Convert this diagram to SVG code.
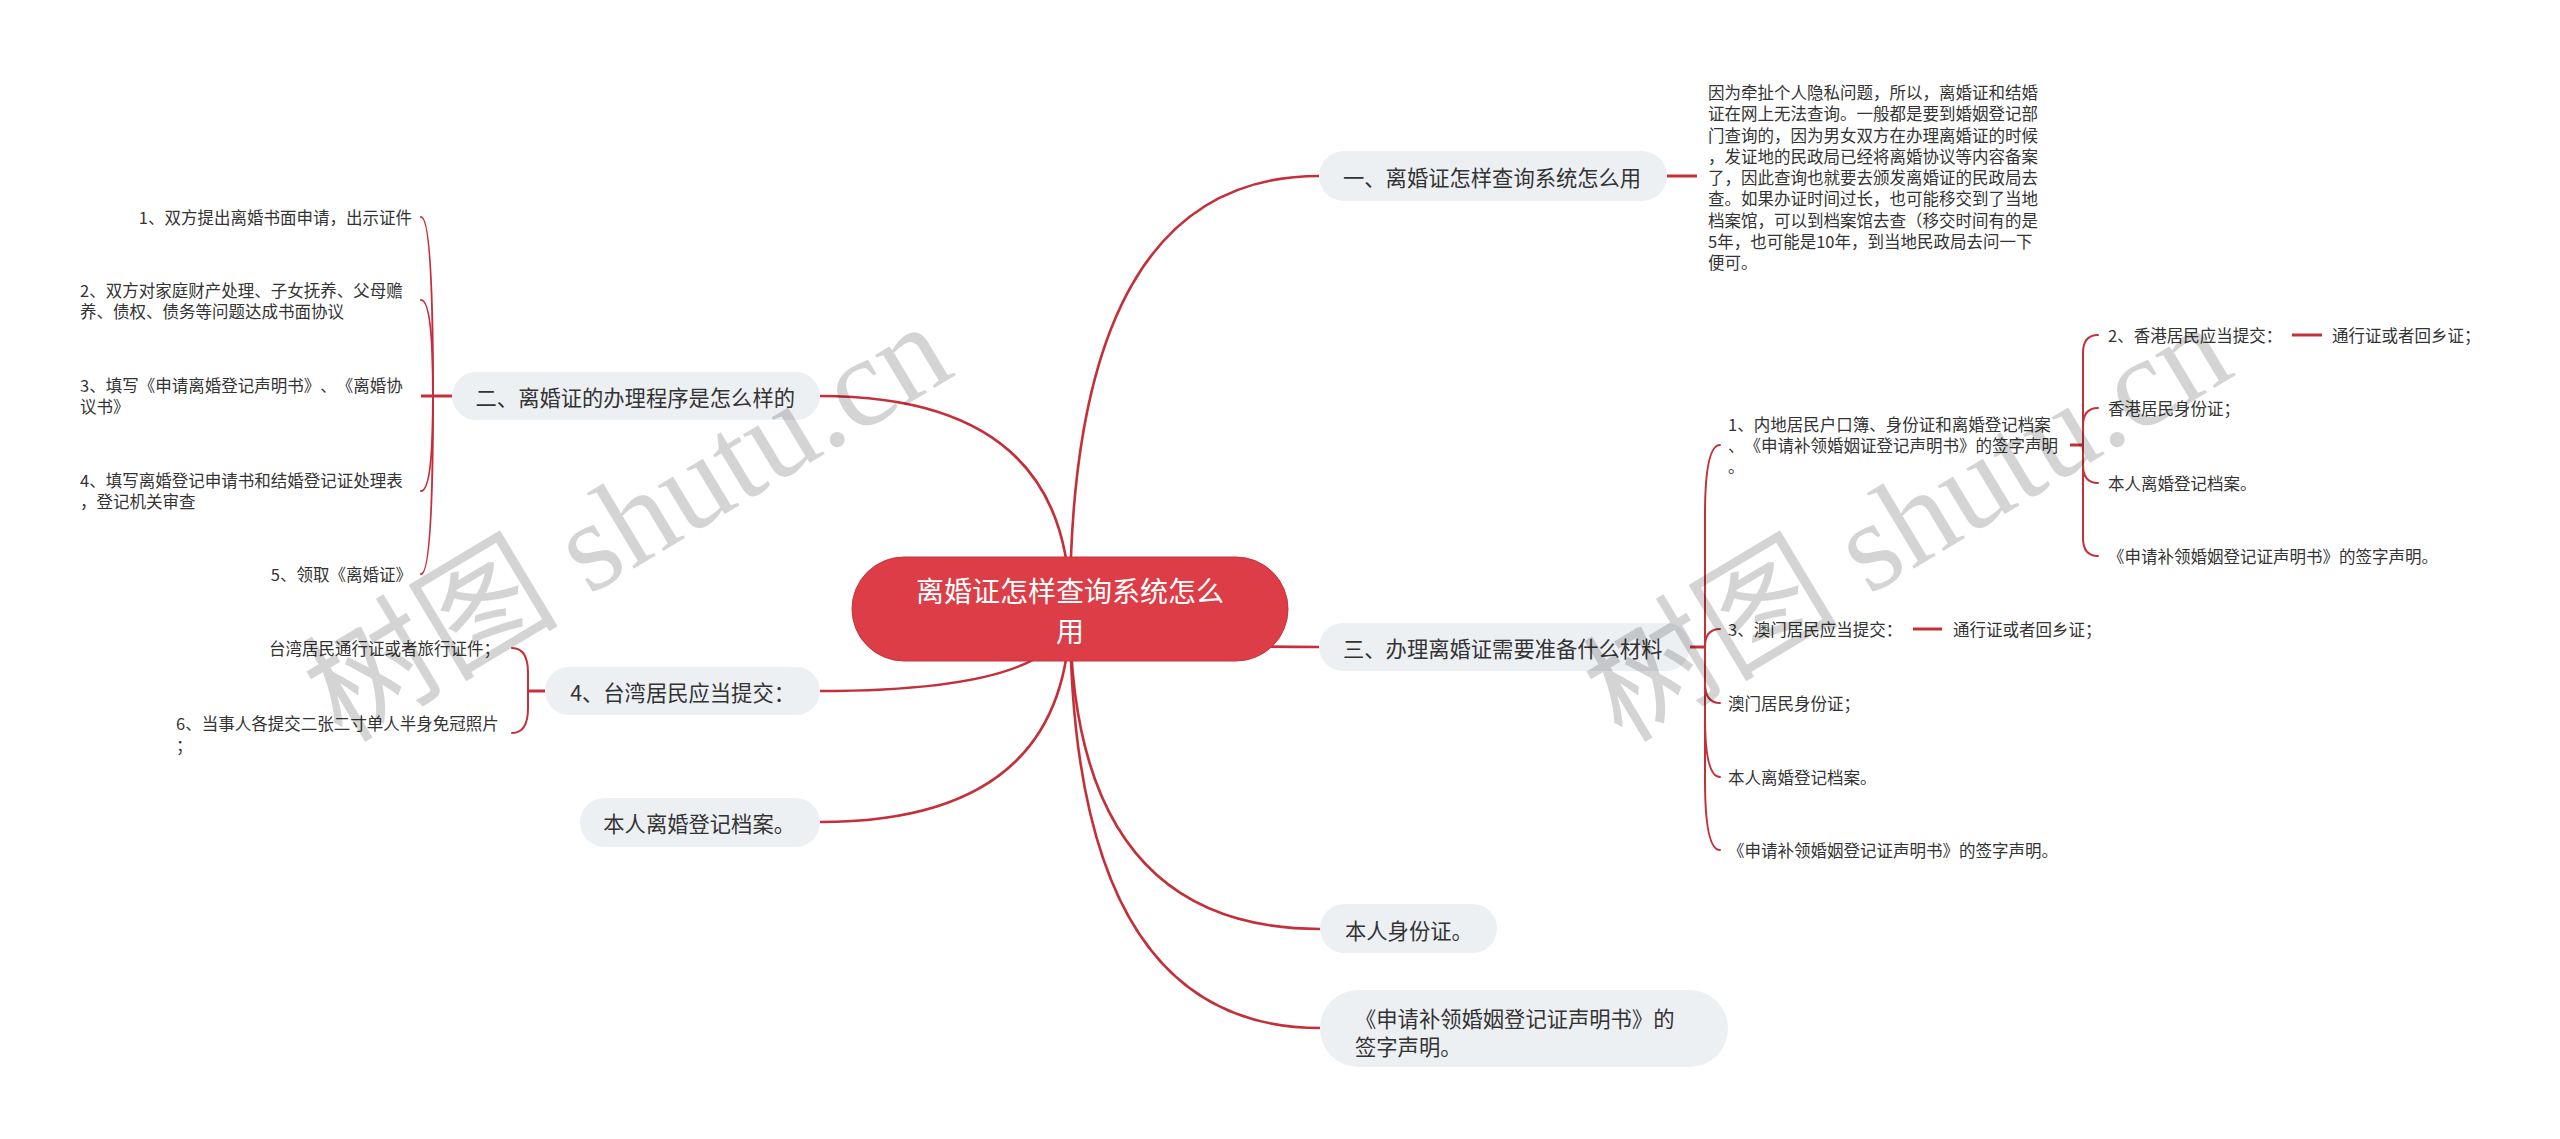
<svg xmlns="http://www.w3.org/2000/svg" width="2560" height="1139" viewBox="0 0 2560 1139">
<style>
text{font-family:"Noto Sans CJK SC","Noto Sans",sans-serif;fill:#333;dominant-baseline:central;text-spacing-trim:space-all;font-feature-settings:"chws" 0,"halt" 0;font-kerning:none}
.nt{font-size:21.3px}
.lt{font-size:16.5px}
.ct{font-size:28px;fill:#fff}
.box{fill:#edf0f3}
.ln{fill:none;stroke:#c4303a;stroke-width:2;stroke-linecap:round}
.mn{fill:none;stroke:#c4303a;stroke-width:2.6}
.sh{fill:none;stroke:#c4303a;stroke-width:3}
.wm{font-family:"Liberation Serif","Noto Sans CJK SC",serif;font-size:128px;fill:#000;fill-opacity:0.17;dominant-baseline:alphabetic}
</style>
<rect width="2560" height="1139" fill="#fff"/>
<g id="connectors">
<path class="mn" d="M1070 609 Q1070 176 1319 176"/>
<path class="mn" d="M1070 609 Q1070 647 1319 647"/>
<path class="mn" d="M1070 609 Q1070 929 1320 929"/>
<path class="mn" d="M1070 609 Q1070 1028 1320 1028"/>
<path class="mn" d="M1070 609 Q1070 396 820 396"/>
<path class="mn" d="M1070 609 Q1070 691 820 691"/>
<path class="mn" d="M1070 609 Q1070 822 820 822"/>
<path class="sh" d="M1667 176 H1697"/>
<path class="sh" d="M452 396 H421"/>
<path class="ln" d="M433 396 Q433 217 421 217"/>
<path class="ln" d="M433 396 Q433 300 421 300"/>
<path class="ln" d="M433 396 Q433 491 421 491"/>
<path class="ln" d="M433 396 Q433 574 421 574"/>
<path class="sh" d="M545 691 H528"/>
<path class="ln" d="M528 691 L528 673 Q528 648 512 648"/>
<path class="ln" d="M528 691 L528 708 Q528 733 512 733"/>
<path class="sh" d="M1690 647 H1705"/>
<path class="ln" d="M1705 647 L1705 515 Q1705 445 1720 445"/>
<path class="ln" d="M1705 647 Q1705 629 1720 629"/>
<path class="ln" d="M1705 647 L1705 683 Q1705 703 1720 703"/>
<path class="ln" d="M1705 647 L1705 717 Q1705 777 1720 777"/>
<path class="ln" d="M1705 647 L1705 780 Q1705 850 1720 850"/>
<path class="sh" d="M2070 445 H2083"/>
<path class="ln" d="M2083 445 L2083 353 Q2083 335 2098 335"/>
<path class="ln" d="M2083 445 L2083 426 Q2083 408 2098 408"/>
<path class="ln" d="M2083 445 L2083 465 Q2083 483 2098 483"/>
<path class="ln" d="M2083 445 L2083 538 Q2083 556 2098 556"/>
<path class="sh" d="M2292 335 H2322"/>
<path class="sh" d="M1913 629 H1942"/>
</g>
<g id="root">
<rect x="852" y="557" width="436" height="104" rx="52" fill="#dc3d46" stroke="#c8343d" stroke-width="1"/>
<text class="ct" x="1070" y="590" text-anchor="middle">离婚证怎样查询系统怎么</text>
<text class="ct" x="1070" y="630" text-anchor="middle">用</text>
</g>
<g id="n1">
<rect class="box" x="1319" y="151" width="348" height="50" rx="25"/>
<text class="nt" x="1343" y="176">一、离婚证怎样查询系统怎么用</text>
</g>
<g id="n1-desc">
<text class="lt" x="1708" y="92">因为牵扯个人隐私问题，所以，离婚证和结婚</text>
<text class="lt" x="1708" y="113.25">证在网上无法查询。一般都是要到婚姻登记部</text>
<text class="lt" x="1708" y="134.5">门查询的，因为男女双方在办理离婚证的时候</text>
<text class="lt" x="1708" y="155.75">，发证地的民政局已经将离婚协议等内容备案</text>
<text class="lt" x="1708" y="177">了，因此查询也就要去颁发离婚证的民政局去</text>
<text class="lt" x="1708" y="198.25">查。如果办证时间过长，也可能移交到了当地</text>
<text class="lt" x="1708" y="219.5">档案馆，可以到档案馆去查（移交时间有的是</text>
<text class="lt" x="1708" y="240.75">5年，也可能是10年，到当地民政局去问一下</text>
<text class="lt" x="1708" y="262">便可。</text>
</g>
<g id="n2">
<rect class="box" x="452" y="372" width="368" height="48" rx="24"/>
<text class="nt" x="795" y="396" text-anchor="end">二、离婚证的办理程序是怎么样的</text>
</g>
<g id="n2-1"><text class="lt" x="412" y="217" text-anchor="end">1、双方提出离婚书面申请，出示证件</text></g>
<g id="n2-2"><text class="lt" x="80" y="290">2、双方对家庭财产处理、子女抚养、父母赡</text><text class="lt" x="80" y="311">养、债权、债务等问题达成书面协议</text></g>
<g id="n2-3"><text class="lt" x="80" y="385">3、填写《申请离婚登记声明书》、《离婚协</text><text class="lt" x="80" y="406">议书》</text></g>
<g id="n2-4"><text class="lt" x="80" y="480">4、填写离婚登记申请书和结婚登记证处理表</text><text class="lt" x="80" y="501">，登记机关审查</text></g>
<g id="n2-5"><text class="lt" x="412" y="574" text-anchor="end">5、领取《离婚证》</text></g>
<g id="n4">
<rect class="box" x="545" y="667" width="275" height="48" rx="24"/>
<text class="nt" x="795" y="691" text-anchor="end">4、台湾居民应当提交：</text>
</g>
<g id="n4-1"><text class="lt" x="500" y="648" text-anchor="end">台湾居民通行证或者旅行证件；</text></g>
<g id="n4-2"><text class="lt" x="176" y="723">6、当事人各提交二张二寸单人半身免冠照片</text><text class="lt" x="176" y="745">；</text></g>
<g id="n5">
<rect class="box" x="580" y="798" width="240" height="49" rx="24.5"/>
<text class="nt" x="795" y="822" text-anchor="end">本人离婚登记档案。</text>
</g>
<g id="n3">
<rect class="box" x="1319" y="623" width="371" height="48" rx="24"/>
<text class="nt" x="1343" y="647">三、办理离婚证需要准备什么材料</text>
</g>
<g id="n3-1"><text class="lt" x="1728" y="424">1、内地居民户口簿、身份证和离婚登记档案</text><text class="lt" x="1728" y="445">、《申请补领婚姻证登记声明书》的签字声明</text><text class="lt" x="1728" y="466">。</text></g>
<g id="n3-1-1"><text class="lt" x="2108" y="335">2、香港居民应当提交：</text></g>
<g id="n3-1-1-1"><text class="lt" x="2332" y="335">通行证或者回乡证；</text></g>
<g id="n3-1-2"><text class="lt" x="2108" y="408">香港居民身份证；</text></g>
<g id="n3-1-3"><text class="lt" x="2108" y="483">本人离婚登记档案。</text></g>
<g id="n3-1-4"><text class="lt" x="2108" y="556">《申请补领婚姻登记证声明书》的签字声明。</text></g>
<g id="n3-2"><text class="lt" x="1728" y="629">3、澳门居民应当提交：</text></g>
<g id="n3-2-1"><text class="lt" x="1953" y="629">通行证或者回乡证；</text></g>
<g id="n3-3"><text class="lt" x="1728" y="703">澳门居民身份证；</text></g>
<g id="n3-4"><text class="lt" x="1728" y="777">本人离婚登记档案。</text></g>
<g id="n3-5"><text class="lt" x="1728" y="850">《申请补领婚姻登记证声明书》的签字声明。</text></g>
<g id="n6">
<rect class="box" x="1320" y="904" width="177" height="49" rx="24.5"/>
<text class="nt" x="1345" y="929">本人身份证。</text>
</g>
<g id="n7">
<rect class="box" x="1320" y="990" width="408" height="77" rx="38"/>
<text class="nt" x="1355" y="1017">《申请补领婚姻登记证声明书》的</text>
<text class="nt" x="1355" y="1045">签字声明。</text>
</g>
<text class="wm" transform="translate(342,744) rotate(-31)">树图 shutu.cn</text>
<text class="wm" transform="translate(1622,744) rotate(-31)">树图 shutu.cn</text>
</svg>
